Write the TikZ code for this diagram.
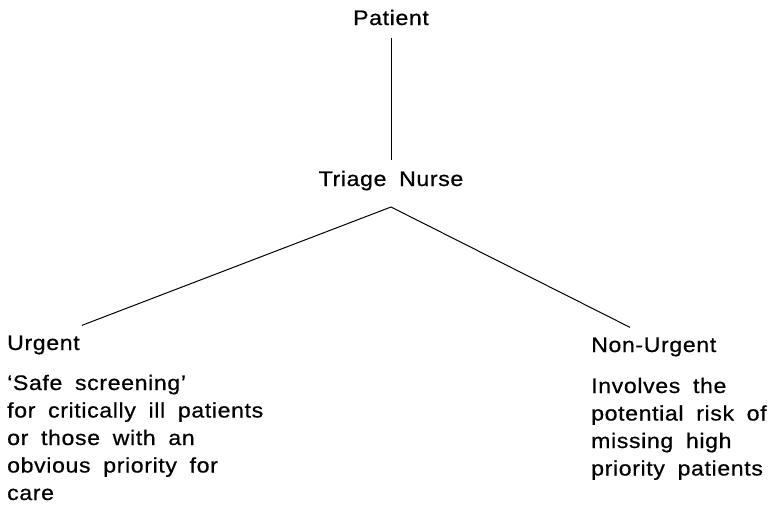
\documentclass[tikz,border=0pt]{standalone}
\usepackage{fontspec}
\setmainfont[FakeStretch=1.1,FakeBold=0.6,LetterSpace=3,WordSpace=1.8]{Liberation Sans}
\usetikzlibrary{calc}
\begin{document}
\begin{tikzpicture}[x=1pt,y=-1pt,
  label/.style={inner sep=0pt,font=\fontsize{21}{27.5}\selectfont},
  note/.style={label,align=left},
  branch/.style={line width=1pt}]
\useasboundingbox (0,0) rectangle (774,504);
% levels of the triage tree
\node[label,anchor=base] (patient) at (391,25) {Patient};
\node[label,anchor=base] (triage) at (391,186) {Triage Nurse};
\coordinate (fork) at (391,207);
\node[label,anchor=base west] (urgent) at (7,350) {Urgent};
\node[label,anchor=base west] (nonurgent) at (591,352) {Non-Urgent};
% explanatory notes under each outcome (anchored on their last line)
\node[note,anchor=base west] (urgentnote) at (7,500)
  {`Safe screening'\\for critically ill patients\\or those with an\\obvious priority for\\care};
\node[note,anchor=base west] (nonurgentnote) at (591,475.5)
  {Involves the\\potential risk of\\missing high\\priority patients};
% connectors (y grows downwards here)
\draw[branch] ($(patient.south)+(0,13)$) -- ($(triage.north)+(0,-11)$);
\draw[branch] (fork) -- ($(urgent.north east)+(2,-10)$);
\draw[branch] (fork) -- ($(nonurgent.north west)+(39,-10)$);
\end{tikzpicture}
\end{document}
